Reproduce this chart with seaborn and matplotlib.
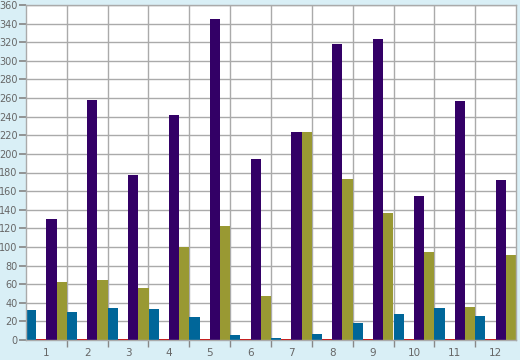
import matplotlib
matplotlib.use("Agg")
import matplotlib.pyplot as plt
import seaborn as sns
import pandas as pd
import numpy as np
from matplotlib.ticker import FixedLocator, MultipleLocator

categories = ["1", "2", "3", "4", "5", "6", "7", "8", "9", "10", "11", "12"]
series_names = ["A", "B", "C", "D"]
blue_vals = [32, 30, 34, 33, 25, 5, 2, 6, 18, 28, 34, 26]
red_vals = [1, 1, 1, 1, 1, 1, 1, 1, 1, 1, 1, 1]
purple_vals = [130, 258, 177, 242, 345, 194, 223, 318, 324, 155, 257, 172]
olive_vals = [62, 64, 56, 100, 123, 47, 223, 173, 136, 95, 35, 91]
colors = ["#006699", "#cc0000", "#330066", "#999933"]

rows = []
for name, vals in zip(series_names, [blue_vals, red_vals, purple_vals, olive_vals]):
    for c, v in zip(categories, vals):
        rows.append({"cat": c, "series": name, "value": v})
df = pd.DataFrame(rows)

sns.set_theme(style="white")
plt.rcParams["font.family"] = ["DejaVu Sans"]

fig = plt.figure(figsize=(5.2, 3.6), dpi=100)
fig.patch.set_facecolor("#d9eff6")
ax = fig.add_axes([26/520, 1 - 340/360, 490/520, 335/360])
ax.set_facecolor("white")

sns.barplot(data=df, x="cat", y="value", hue="series", order=categories,
            hue_order=series_names, palette=colors, width=1.0, gap=0,
            dodge=True, saturation=1, legend=False, ax=ax, linewidth=0,
            errorbar=None)

ax.set_xlim(-0.5, 11.5)
ax.set_ylim(0, 360)
ax.yaxis.set_major_locator(MultipleLocator(20))
ax.set_axisbelow(True)
ax.grid(axis="y", color="#aaaaaa", linewidth=1)
ax.xaxis.set_minor_locator(FixedLocator(np.arange(0.5, 11.5, 1.0)))
ax.grid(axis="x", which="minor", color="#aaaaaa", linewidth=1)
ax.grid(axis="x", which="major", visible=False)
ax.set_xlabel("")
ax.set_ylabel("")
for s in ax.spines.values():
    s.set_color("#aaaaaa")
    s.set_linewidth(1)
ax.tick_params(axis="x", which="major", length=0, pad=6, labelsize=7.5, labelcolor="#666666")
ax.tick_params(axis="x", which="minor", length=5, color="#888888", direction="out", bottom=True)
ax.tick_params(axis="y", which="major", length=5, color="#888888", left=True, pad=1, labelsize=7, labelcolor="#666666")

fig.savefig("out.png", dpi=100, facecolor=fig.get_facecolor())
